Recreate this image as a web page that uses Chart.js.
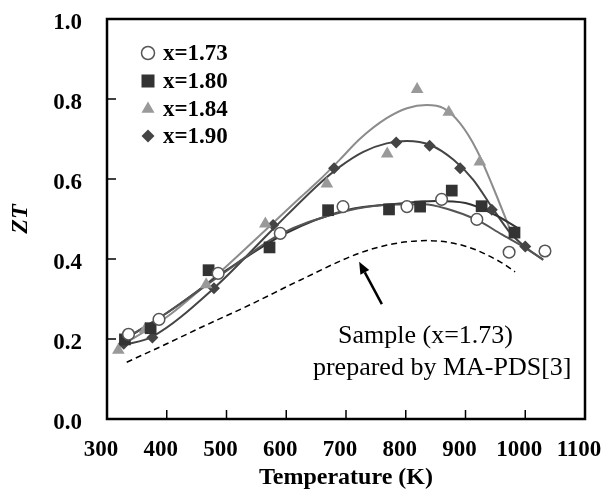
<!DOCTYPE html>
<html>
<head>
<meta charset="utf-8">
<script src="https://cdn.jsdelivr.net/npm/chart.js@4.4.0/dist/chart.umd.min.js"></script>
<style>
  html, body { margin: 0; padding: 0; background: #fff; }
  canvas { display: block; }
</style>
</head>
<body>
<canvas id="ztChart" width="606" height="495"></canvas>
<script>
const SERIF = "'Liberation Serif', 'Times New Roman', serif";

// measured points (Temperature K, ZT)
const t173 = [336, 387, 486, 590, 695, 802, 860, 919, 973, 1033];
const zt173 = [0.212, 0.249, 0.364, 0.464, 0.531, 0.531, 0.549, 0.499, 0.417, 0.420];

const t180 = [330, 373, 470, 572, 670, 772, 824, 877, 927, 982];
const zt180 = [0.199, 0.227, 0.372, 0.429, 0.522, 0.524, 0.531, 0.571, 0.532, 0.466];

const t184 = [319, 364, 466, 565, 668, 769, 819, 872, 924];
const zt184 = [0.172, 0.224, 0.336, 0.488, 0.588, 0.663, 0.824, 0.767, 0.643];

const t190 = [328, 376, 479, 578, 680, 784, 840, 891, 944, 1000];
const zt190 = [0.188, 0.204, 0.327, 0.485, 0.627, 0.691, 0.683, 0.627, 0.523, 0.431];

// fitted curves
const fitT173 = [335, 400, 500, 590, 700, 780, 830, 870, 920, 960, 1000, 1030];
const fitZ173 = [0.205, 0.265, 0.37, 0.462, 0.52, 0.536, 0.537, 0.525, 0.497, 0.462, 0.428, 0.398];

const fitT180 = [325, 400, 500, 600, 700, 790, 850, 900, 950, 990];
const fitZ180 = [0.195, 0.265, 0.372, 0.465, 0.522, 0.539, 0.545, 0.54, 0.51, 0.475];

const fitT184 = [318, 400, 480, 565, 623, 656, 690, 723, 768, 802, 835, 863, 891, 919, 946, 975];
const fitZ184 = [0.178, 0.255, 0.355, 0.472, 0.553, 0.598, 0.649, 0.70, 0.752, 0.777, 0.785, 0.777, 0.739, 0.672, 0.58, 0.472];

const fitT190 = [328, 376, 479, 578, 656, 690, 729, 768, 802, 841, 880, 913, 944, 975, 1000, 1030];
const fitZ190 = [0.185, 0.206, 0.327, 0.475, 0.589, 0.631, 0.668, 0.689, 0.695, 0.685, 0.648, 0.598, 0.53, 0.465, 0.43, 0.398];

// MA-PDS sample (dashed)
const dashT = [333, 400, 456, 540, 623, 723, 780, 835, 900, 958, 983];
const dashZ = [0.142, 0.188, 0.228, 0.286, 0.347, 0.415, 0.438, 0.446, 0.432, 0.393, 0.368];

const xTicks = [300, 400, 500, 600, 700, 800, 900, 1000, 1100];
const yTicks = [0.0, 0.2, 0.4, 0.6, 0.8, 1.0];

const seriesLabels = ["x=1.73", "x=1.80", "x=1.84", "x=1.90"];
const noteLines = ["Sample (x=1.73)", "prepared by MA-PDS[3]"];
const notePos = [[833, 0.19], [861, 0.11]];
const arrowFrom = [760, 0.287];
const arrowTo = [722, 0.393];

const xy = (xs, ys) => xs.map((x, i) => ({ x: x, y: ys[i] }));

const curve = (xs, ys, color) => ({
  data: xy(xs, ys), showLine: true, borderColor: color, borderWidth: 2,
  pointRadius: 0, cubicInterpolationMode: 'monotone', fill: false, order: 2
});

const markerStyles = [
  { pointStyle: 'circle', radius: 5.8, backgroundColor: '#fff', borderColor: '#555', borderWidth: 1.5 },
  { pointStyle: 'rect', radius: 8.3, backgroundColor: '#333', borderColor: '#333', borderWidth: 0 },
  { pointStyle: 'triangle', radius: 7.3, backgroundColor: '#999', borderColor: '#999', borderWidth: 0 },
  { pointStyle: 'rectRot', radius: 6, backgroundColor: '#444', borderColor: '#444', borderWidth: 0 }
];

const markers = (xs, ys, i) => ({
  label: seriesLabels[i], data: xy(xs, ys), showLine: false,
  pointStyle: markerStyles[i].pointStyle, pointRadius: markerStyles[i].radius,
  pointBackgroundColor: markerStyles[i].backgroundColor,
  pointBorderColor: markerStyles[i].borderColor,
  pointBorderWidth: markerStyles[i].borderWidth, order: 1
});

// legend drawn inside the plot, top-left
const legendPlugin = {
  id: 'innerLegend',
  afterDatasetsDraw(chart) {
    const { ctx, chartArea } = chart;
    const rows = [34, 62, 90, 117];
    const legendR = [6.5, 9.2, 7.5, 6.5];
    ctx.save();
    seriesLabels.forEach((txt, i) => {
      const s = markerStyles[i];
      const cx = chartArea.left + 41, cy = chartArea.top + rows[i];
      ctx.fillStyle = s.backgroundColor;
      ctx.strokeStyle = s.borderColor;
      ctx.lineWidth = s.borderWidth;
      Chart.helpers.drawPoint(ctx, { pointStyle: s.pointStyle, radius: legendR[i], rotation: 0, borderWidth: s.borderWidth }, cx, cy);
      ctx.fillStyle = '#000';
      ctx.font = "bold 23px " + SERIF;
      ctx.textAlign = 'left';
      ctx.textBaseline = 'middle';
      ctx.fillText(txt, chartArea.left + 56, cy + 1);
    });
    ctx.restore();
  }
};

// frame, inward ticks, arrow and note
const framePlugin = {
  id: 'frame',
  afterDatasetsDraw(chart) {
    const { ctx, chartArea: a, scales: { x, y } } = chart;
    ctx.save();
    ctx.strokeStyle = '#000';
    ctx.lineWidth = 1.5;
    xTicks.slice(1, -1).forEach(v => {
      const px = x.getPixelForValue(v);
      ctx.beginPath(); ctx.moveTo(px, a.bottom); ctx.lineTo(px, a.bottom - 9); ctx.stroke();
    });
    yTicks.slice(1, -1).forEach(v => {
      const py = y.getPixelForValue(v);
      ctx.beginPath(); ctx.moveTo(a.left, py); ctx.lineTo(a.left + 9, py); ctx.stroke();
    });
    ctx.lineWidth = 2.5;
    ctx.strokeRect(a.left, a.top, a.right - a.left, a.bottom - a.top);

    // arrow
    const x0 = x.getPixelForValue(arrowFrom[0]), y0 = y.getPixelForValue(arrowFrom[1]);
    const x1 = x.getPixelForValue(arrowTo[0]), y1 = y.getPixelForValue(arrowTo[1]);
    const ang = Math.atan2(y1 - y0, x1 - x0);
    const hl = 12, hw = 5;
    const bx = x1 - Math.cos(ang) * hl, by = y1 - Math.sin(ang) * hl;
    ctx.lineWidth = 2.5;
    ctx.beginPath(); ctx.moveTo(x0, y0); ctx.lineTo(bx, by); ctx.stroke();
    ctx.fillStyle = '#000';
    ctx.beginPath();
    ctx.moveTo(x1, y1);
    ctx.lineTo(bx + Math.sin(ang) * hw, by - Math.cos(ang) * hw);
    ctx.lineTo(bx - Math.sin(ang) * hw, by + Math.cos(ang) * hw);
    ctx.closePath();
    ctx.fill();

    ctx.font = "26px " + SERIF;
    ctx.textAlign = 'center';
    ctx.textBaseline = 'alphabetic';
    noteLines.forEach((txt, i) => {
      ctx.fillText(txt, x.getPixelForValue(notePos[i][0]), y.getPixelForValue(notePos[i][1]));
    });
    ctx.restore();
  }
};

const ctx = document.getElementById("ztChart").getContext("2d");
const ztChart = new Chart(ctx, {
  type: 'scatter',
  data: {
    datasets: [
      curve(fitT173, fitZ173, '#555'),
      curve(fitT180, fitZ180, '#333'),
      curve(fitT184, fitZ184, '#8c8c8c'),
      curve(fitT190, fitZ190, '#444'),
      { data: xy(dashT, dashZ), showLine: true, borderColor: '#000', borderWidth: 1.5,
        borderDash: [6, 4], pointRadius: 0, cubicInterpolationMode: 'monotone', fill: false, order: 2 },
      markers(t173, zt173, 0),
      markers(t180, zt180, 1),
      markers(t184, zt184, 2),
      markers(t190, zt190, 3)
    ]
  },
  options: {
    responsive: false,
    animation: false,
    layout: { padding: { top: 19, right: 21, bottom: 0, left: 0 } },
    plugins: { legend: { display: false }, tooltip: { enabled: false } },
    scales: {
      x: {
        type: 'linear', min: 300, max: 1100,
        afterBuildTicks: s => { s.ticks = xTicks.map(v => ({ value: v })); },
        afterFit: s => { s.height = 76; s.paddingLeft = 0; s.paddingRight = 0; },
        grid: { display: false, drawTicks: false },
        border: { display: false },
        ticks: { color: '#000', padding: 17, labelOffset: -6, maxRotation: 0,
                 callback: v => String(v),
                 font: { family: SERIF, size: 23, weight: 'bold' } },
        title: { display: true, text: 'Temperature (K)', color: '#000', padding: { top: 0, bottom: 3 },
                 font: { family: SERIF, size: 24, weight: 'bold' } }
      },
      y: {
        type: 'linear', min: 0, max: 1,
        afterBuildTicks: s => { s.ticks = yTicks.map(v => ({ value: v })); },
        afterFit: s => { s.width = 107; s.paddingTop = 0; s.paddingBottom = 0; },
        grid: { display: false, drawTicks: false },
        border: { display: false },
        ticks: { color: '#000', padding: 25, labelOffset: 4,
                 callback: v => v.toFixed(1),
                 font: { family: SERIF, size: 23, weight: 'bold' } },
        title: { display: true, text: 'ZT', color: '#000', padding: { top: 6, bottom: 0 },
                 font: { family: SERIF, size: 24, weight: 'bold', style: 'italic' } }
      }
    }
  },
  plugins: [framePlugin, legendPlugin]
});
</script>
</body>
</html>
